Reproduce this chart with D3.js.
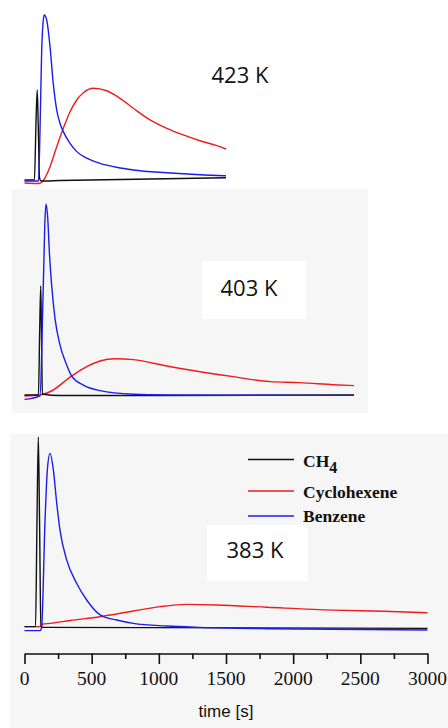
<!DOCTYPE html>
<html>
    <head>
        <meta charset="utf-8">
        <title>Transient response at 423, 403 and 383 K</title>
        <style type="text/css">
body {
  margin: 0;
  background: #fff; }

.chart text.tick-label {
  font-family: "Liberation Serif", "Times New Roman", serif;
  font-size: 19.5px;
  fill: #111; }

.chart .legend text {
  font-family: "Liberation Serif", "Times New Roman", serif;
  font-weight: bold;
  font-size: 17.5px;
  fill: #111; }

.chart .temp-label {
  font-family: "Open Sans", sans-serif;
  font-size: 22px;
  fill: #111; }

.chart .axis-title {
  font-family: "Liberation Sans", Arial, sans-serif;
  font-size: 17px;
  fill: #111; }
        </style>
        <script src="https://d3js.org/d3.v7.min.js"></script>
    </head>
    <body>
        <div class="chart"></div>
    </body>
    <script>
// time in seconds, signal normalised to the tallest peak of each panel
var series = ['CH4', 'Cyclohexene', 'Benzene'];
var seriesColors = ['#111111', '#ee1c1c', '#1c1cee'];
var temperatures = ['423 K', '403 K', '383 K'];
var axisTicks = [0, 500, 1000, 1500, 2000, 2500, 3000];

// 423 K
var ch4_423 = [[0, 0], [74, 0], [86, 0.364], [95, 0.545], [103, 0.303], [112, 0.012], [123, -0.006], [264, -0.003], [1500, 0.014]];
var hex_423 = [[0, -0.018], [93, -0.021], [115, -0.02], [150, 0.01], [190, 0.081], [240, 0.202], [289, 0.313], [339, 0.414], [389, 0.485], [438, 0.529], [512, 0.556], [612, 0.541], [711, 0.495], [810, 0.435], [934, 0.364], [1059, 0.313], [1182, 0.273], [1306, 0.238], [1431, 0.208], [1500, 0.188]];
var benz_423 = [[0, -0.006], [104, -0.006], [115, 0.283], [128, 0.788], [140, 0.97], [147, 1.0], [165, 0.97], [190, 0.808], [214, 0.586], [240, 0.424], [264, 0.344], [289, 0.293], [339, 0.222], [389, 0.172], [463, 0.132], [562, 0.101], [686, 0.077], [810, 0.061], [1059, 0.044], [1306, 0.032], [1500, 0.026]];

// 403 K
var ch4_403 = [[0, 0], [104, 0], [113, 0.34], [121, 0.571], [127, 0.288], [133, 0.005], [264, -0.003], [2453, 0]];
var hex_403 = [[0, -0.005], [115, 0], [190, 0.017], [351, 0.099], [463, 0.148], [562, 0.178], [674, 0.19], [810, 0.185], [1059, 0.152], [1306, 0.122], [1554, 0.096], [1828, 0.07], [2051, 0.065], [2299, 0.054], [2453, 0.049]];
var benz_403 = [[0, -0.023], [115, -0.004], [140, 0.576], [153, 0.925], [160, 1.0], [173, 0.925], [185, 0.75], [202, 0.576], [227, 0.401], [264, 0.262], [314, 0.157], [351, 0.099], [438, 0.052], [562, 0.023], [810, 0.004], [1059, 0], [2453, -0.002]];

// 383 K
var ch4_383 = [[0, 0.002], [82, 0.002], [93, 0.56], [103, 1.0], [112, 0.56], [122, 0.002], [140, -0.002], [3000, -0.007]];
var hex_383 = [[0, 0.002], [115, 0.002], [138, 0.016], [190, 0.019], [339, 0.034], [562, 0.054], [810, 0.084], [1009, 0.107], [1207, 0.119], [1431, 0.116], [1803, 0.104], [2299, 0.089], [2671, 0.083], [3000, 0.075]];
var benz_383 = [[0, -0.019], [115, -0.019], [127, -0.005], [153, 0.563], [170, 0.826], [190, 0.914], [215, 0.826], [240, 0.651], [264, 0.511], [314, 0.353], [389, 0.229], [463, 0.142], [575, 0.058], [686, 0.037], [810, 0.019], [1059, 0.005], [1306, -0.002], [1803, -0.009], [2299, -0.012], [3000, -0.016]];

var panelData = [
    [ch4_423, hex_423, benz_423],
    [ch4_403, hex_403, benz_403],
    [ch4_383, hex_383, benz_383]
];

///////////

var width = 448,
    height = 728;

// pixel layout of the three stacked panels
var panels = [
    {base: 180, top: 15,  bg: null,                              label: {x: 240, y: 83,  box: [193, 50, 97, 50]}},
    {base: 395, top: 204, bg: [12, 189, 356, 224],               label: {x: 249, y: 296, box: [202, 261, 104, 58]}},
    {base: 627, top: 437, bg: [10, 434, 438, 294],               label: {x: 255, y: 558, box: [207, 525, 101, 56]}}
];

var svg = d3.select('.chart').append('svg')
    .attr('width', width)
    .attr('height', height);

var x = d3.scaleLinear()
    .domain([0, 3000])
    .range([24.5, 427.5]);

var line = d3.line()
    .curve(d3.curveMonotoneX);

panels.forEach(function(p, i){
    drawPanel(p, i);
});

drawLegend();
drawAxis();

////////////

function drawPanel(p, i){
    var g = svg.append('g').attr('class', 'panel');

    var y = d3.scaleLinear()
        .domain([0, 1])
        .range([p.base, p.top]);

    if(p.bg){
        g.append('rect')
            .attr('x', p.bg[0]).attr('y', p.bg[1])
            .attr('width', p.bg[2]).attr('height', p.bg[3])
            .attr('fill', '#f6f6f6');
    }

    g.append('rect')
        .attr('x', p.label.box[0]).attr('y', p.label.box[1])
        .attr('width', p.label.box[2]).attr('height', p.label.box[3])
        .attr('fill', '#ffffff');

    g.append('text')
        .attr('class', 'temp-label')
        .attr('x', p.label.x)
        .attr('y', p.label.y)
        .attr('text-anchor', 'middle')
        .text(temperatures[i]);

    line.x(function(d){ return x(d[0]); })
        .y(function(d){ return y(d[1]); });

    // draw cyclohexene, then ch4, benzene on top
    [1, 0, 2].forEach(function(s){
        g.append('path')
            .datum(panelData[i][s])
            .attr('d', line)
            .attr('fill', 'none')
            .attr('stroke', seriesColors[s])
            .attr('stroke-width', 1.4);
    });
}

function drawLegend(){
    var lg = svg.append('g').attr('class', 'legend');
    var lineY = [459.5, 491, 516],
        textY = [466.5, 497.5, 521.5];

    series.forEach(function(name, i){
        lg.append('line')
            .attr('x1', 248).attr('x2', 294)
            .attr('y1', lineY[i]).attr('y2', lineY[i])
            .attr('stroke', seriesColors[i])
            .attr('stroke-width', 1.5);

        var t = lg.append('text')
            .attr('x', 303)
            .attr('y', textY[i]);

        if(name === 'CH4'){
            t.append('tspan').text('CH');
            t.append('tspan').attr('dy', 6).style('font-size', '16px').text('4');
        } else {
            t.text(name);
        }
    });
}

function drawAxis(){
    var axis = d3.axisBottom(x)
        .tickValues(d3.range(0, 3001, 250))
        .tickSizeOuter(0)
        .tickFormat('');

    var ag = svg.append('g')
        .attr('class', 'axis')
        .attr('transform', 'translate(0,653.5)')
        .call(axis);

    ag.select('.domain').attr('stroke', '#111').attr('stroke-width', 1.6);
    ag.selectAll('.tick line')
        .attr('stroke', '#111')
        .attr('stroke-width', 1.6)
        .attr('y2', function(d){ return d % 500 === 0 ? 10.5 : 5.5; });
    ag.selectAll('.tick text').remove();

    svg.append('g').selectAll('text')
        .data(axisTicks)
        .enter()
        .append('text')
        .attr('class', 'tick-label')
        .attr('x', function(d){ return x(d); })
        .attr('y', 685)
        .attr('text-anchor', 'middle')
        .text(function(d){ return d; });

    svg.append('text')
        .attr('class', 'axis-title')
        .attr('x', 226)
        .attr('y', 717)
        .attr('text-anchor', 'middle')
        .text('time [s]');
}
    </script>
</html>
